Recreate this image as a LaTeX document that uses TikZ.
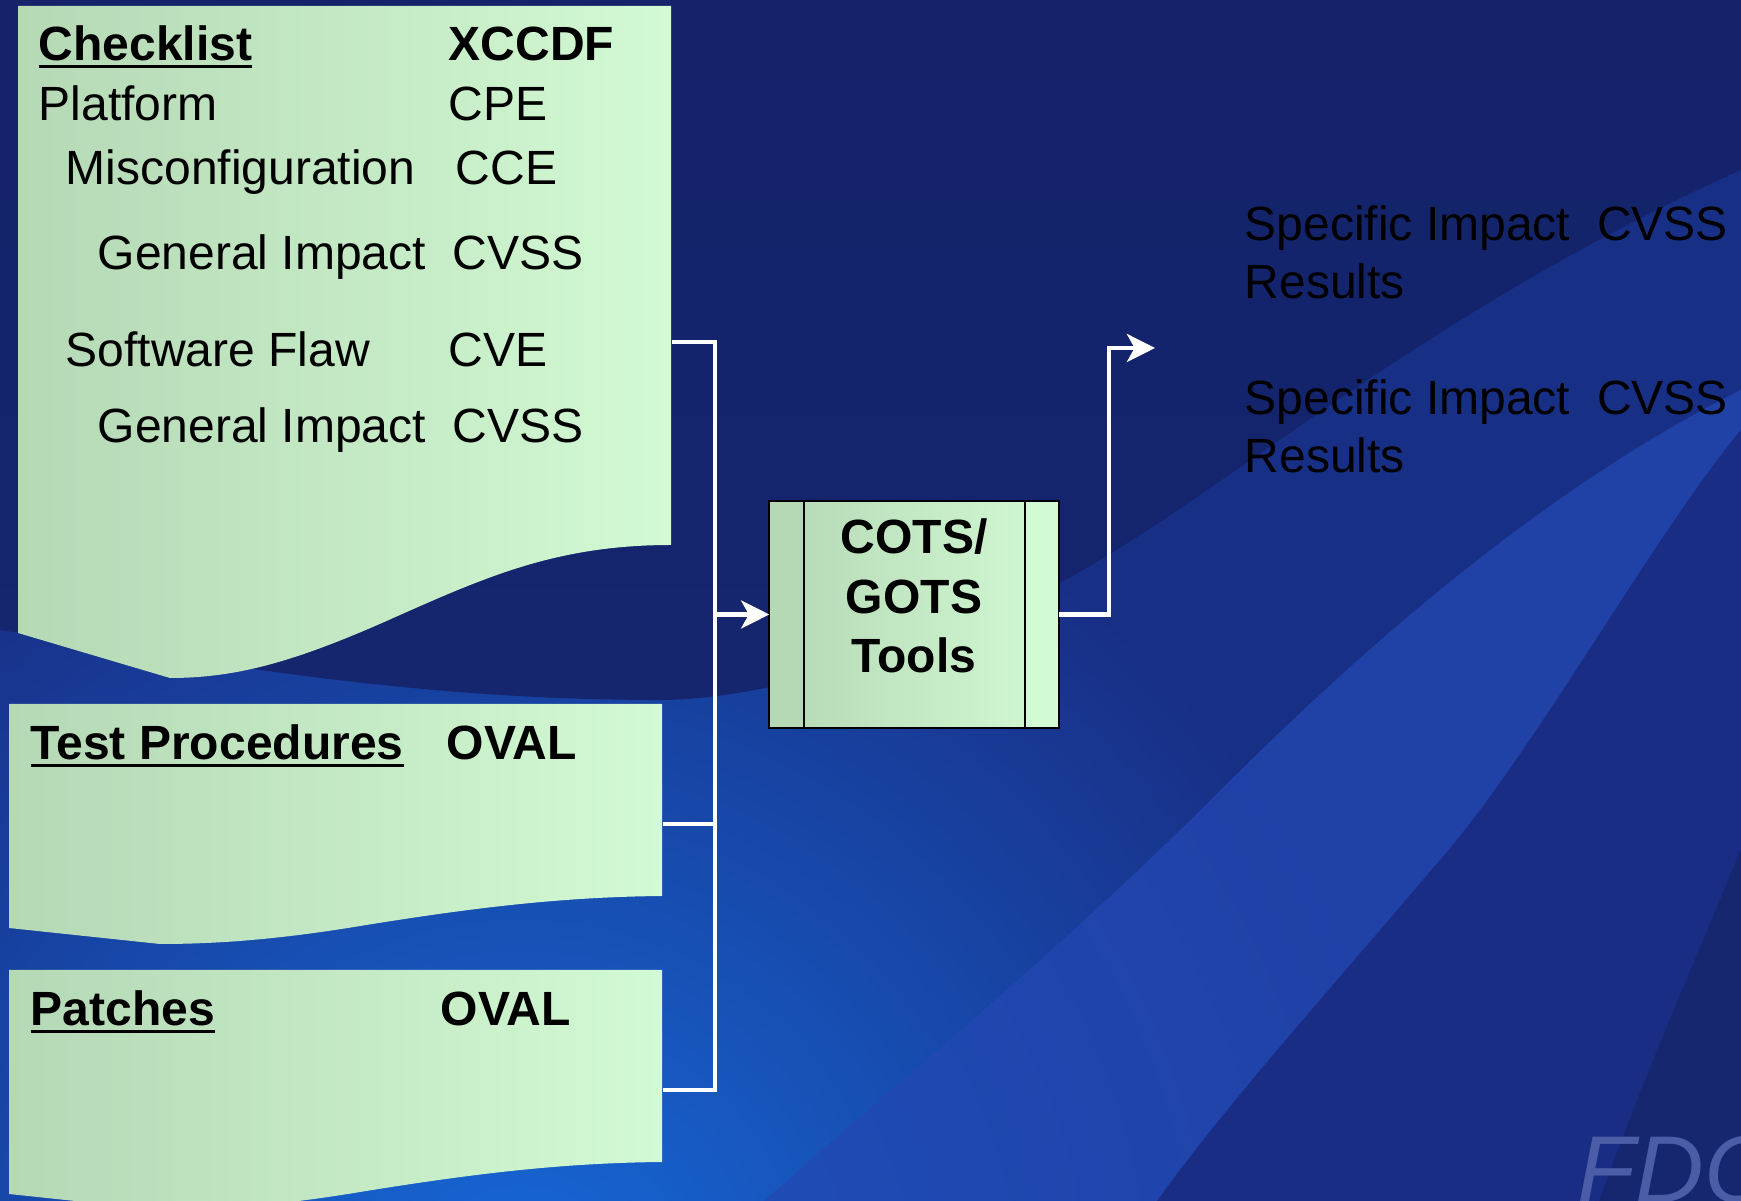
\documentclass[tikz,border=0pt]{standalone}
\usepackage{fontspec}
\setmainfont{Liberation Sans}
\usetikzlibrary{arrows.meta,calc}

\definecolor{navytop}{HTML}{14236A}
\definecolor{navymid}{HTML}{182F86}
\definecolor{glow}{HTML}{1669D8}
\definecolor{bandblue}{HTML}{2348B2}
\definecolor{deepblue}{HTML}{1A2D84}
\definecolor{deepest}{HTML}{16266F}
\definecolor{sage}{HTML}{B5D8B5}
\definecolor{mint}{HTML}{D2FAD3}
\definecolor{fdcgrey}{HTML}{4A5DA6}

% thick underline for the page titles
\newcommand{\ulbox}[1]{\setbox0\hbox{#1}\rlap{\rule[-1.95pt]{\wd0}{0.9pt}}\box0}

\tikzset{
  page/.style={left color=sage, right color=mint},
  docarea/.style={rectangle, inner sep=0pt, minimum width=6.53cm},
  txt/.style={anchor=base west, inner sep=0pt, text=black, font=\fontsize{13.66pt}{17pt}\selectfont},
  head/.style={txt, font=\fontsize{13.66pt}{17pt}\selectfont\bfseries},
  wire/.style={white, line width=1.15pt},
  flow/.style={-{Stealth[length=8pt, width=8pt, inset=2.2pt]}},
  toolbox/.style={left color=sage, right color=mint, minimum width=2.88cm, minimum height=2.25cm, inner sep=0pt},
}

\begin{document}
\begin{tikzpicture}[x=0.01cm, y=-0.01cm]
\useasboundingbox (0,0) rectangle (1741,1201);

% background swooshes
\begin{scope}
  \clip (0,0) rectangle (1741,1201);
  \fill[navymid] (0,0) rectangle (1741,1201);
  \shade[inner color=glow, outer color=navymid] (520,1300) circle (900);
  \shade[top color=navytop, bottom color=navytop!85!navymid] (0,0) -- (1741,0) -- (1741,170)
    .. controls (1450,300) and (1250,470) .. (1100,560)
    .. controls (950,650) and (760,700) .. (661,700)
    .. controls (400,700) and (200,660) .. (0,630) -- cycle;
  \fill[bandblue, fill opacity=0.75] (764,1201) .. controls (900,1080) and (1050,960) .. (1220,791)
    .. controls (1380,630) and (1560,480) .. (1741,390) -- (1741,430)
    .. controls (1650,540) and (1530,760) .. (1434,867)
    .. controls (1330,990) and (1230,1100) .. (1157,1201) -- cycle;
  \fill[deepblue] (1157,1201) .. controls (1230,1100) and (1330,990) .. (1434,867)
    .. controls (1530,760) and (1650,540) .. (1741,430) -- (1741,1201) -- cycle;
  \fill[deepest] (1599,1201) .. controls (1650,1060) and (1700,950) .. (1741,849) -- (1741,1201) -- cycle;
\end{scope}

% the three pages
\node[docarea, minimum height=6.72cm] (checklist) at (344.5,342) {};
\node[docarea, minimum height=2.40cm] (testproc) at (335.5,824) {};
\node[docarea, minimum height=2.40cm] (patches) at (335.5,1090) {};

\shade[page] (18,6) -- (671,6) -- (671,545)
  .. controls (560,545) and (490,575) .. (400,615)
  .. controls (300,660) and (240,678) .. (170,678) -- (18,633) -- cycle;
\foreach \dy in {0,266}
  \shade[page, shift={(0,\dy)}] (9,704) -- (662,704) -- (662,896)
    .. controls (560,897) and (470,908) .. (354,927)
    .. controls (280,939) and (220,944) .. (160,944) -- (9,928) -- cycle;

\node[head] (checklist-title) at (38,61) {\ulbox{Checklist}};
\node[head] (xccdf) at (448,61) {XCCDF};
\foreach \lx/\rx/\by/\ltxt/\rtxt [count=\i] in
  {38/448/121/Platform/CPE,
   65/455/185/Misconfiguration/CCE,
   97/452/270/General Impact/CVSS,
   65/448/367/Software Flaw/CVE,
   97/452/443/General Impact/CVSS}
{
  \node[txt] (item\i) at (\lx,\by) {\ltxt};
  \node[txt] (std\i) at (\rx,\by) {\rtxt};
}

\node[head] (testproc-title) at (30,760) {\ulbox{Test Procedures}};
\node[head] (oval1) at (446,760) {OVAL};
\node[head] (patches-title) at (30,1026) {\ulbox{Patches}};
\node[head] (oval2) at (440,1026) {OVAL};

% tool box
\node[toolbox] (tools) at (914,614.5) {};
\fill[sage] (tools.north west) rectangle ($(tools.south west)+(35,0)$);
\fill[mint] ($(tools.north east)+(-34,0)$) rectangle (tools.south east);
\draw[line width=0.45pt] ($(tools.north west)+(35,0)$) -- ($(tools.south west)+(35,0)$);
\draw[line width=0.45pt] ($(tools.north east)+(-34,0)$) -- ($(tools.south east)+(-34,0)$);
\draw[line width=0.6pt] (tools.north west) rectangle (tools.south east);
\node[head, align=center, anchor=base] (toolsname) at (914,673) {COTS/\\GOTS\\Tools};

% connectors
\coordinate (busbot) at (715,1090);
\coordinate (resin) at (1155,348);
\draw[wire] (checklist.east) -| (busbot) -- (patches.east);
\draw[wire] (testproc.east) -- (testproc.east -| busbot);
\draw[wire, flow] (tools.west -| busbot) -- (tools.west);
\draw[wire, flow] (tools.east) -- ++(50,0) |- (resin);

% results
\node[txt, align=left, font=\fontsize{13.66pt}{16.5pt}\selectfont] (result1) at (1244,299) {Specific Impact~~CVSS\\Results};
\node[txt, align=left, font=\fontsize{13.66pt}{16.5pt}\selectfont] (result2) at (1244,473) {Specific Impact~~CVSS\\Results};

\node[anchor=base west, inner sep=0pt, text=fdcgrey, font=\fontsize{27pt}{27pt}\selectfont\itshape] (fdc) at (1577,1203) {FDC};
\end{tikzpicture}
\end{document}
